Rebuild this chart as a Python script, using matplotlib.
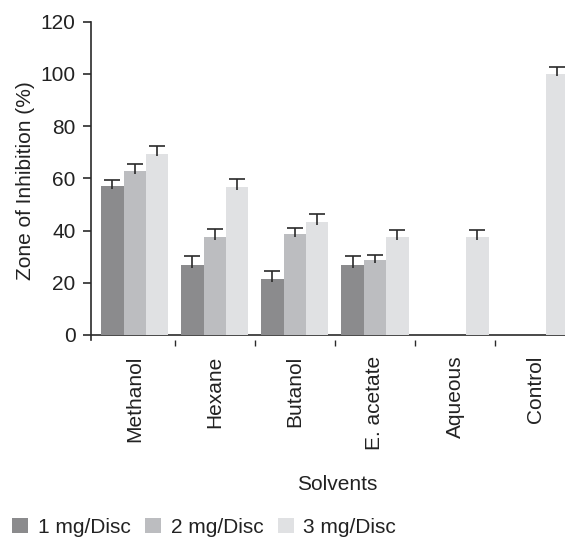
import numpy as np
import matplotlib.pyplot as plt

plt.rcParams['font.family'] = ['Liberation Sans', 'DejaVu Sans']

solvents = ['Methanol', 'Hexane', 'Butanol', 'E. acetate', 'Aqueous', 'Control']
doses = ['1 mg/Disc', '2 mg/Disc', '3 mg/Disc']

# mean zone of inhibition (%) per dose
vals_1 = [56.9, 26.7, 21.4, 26.7, 0, 0]
vals_2 = [62.7, 37.4, 38.6, 28.7, 0, 0]
vals_3 = [69.5, 56.6, 43.2, 37.4, 37.4, 100.1]
# upper error
err_1 = [2.4, 3.5, 3.1, 3.4, 0, 0]
err_2 = [2.9, 3.1, 2.3, 2.1, 0, 0]
err_3 = [2.7, 3.0, 3.3, 2.8, 2.8, 2.4]

colors = ['#8b8b8d', '#bcbdc0', '#e0e1e3']
ink = '#2a2a2a'
fs = 15

fig = plt.figure(figsize=(5.65, 5.38), dpi=100)
ax = fig.add_axes([0.161, 0.3677, 0.871, 0.592])

x = np.arange(len(solvents))
w = 0.28
for k, (v, e) in enumerate(zip([vals_1, vals_2, vals_3], [err_1, err_2, err_3])):
    xs = x + (k - 1) * w
    ax.bar(xs, v, width=w, color=colors[k], label=doses[k], zorder=2)
    v = np.array(v)
    e = np.array(e)
    m = v > 0
    # one-sided error bars: stem dips slightly into the bar, cap on top only
    eb = ax.errorbar(xs[m], v[m], yerr=[np.full(m.sum(), 1.0), e[m]], fmt='none',
                     ecolor=ink, elinewidth=1.2, capsize=6, capthick=1.2, zorder=3)
    eb[1][0].set_visible(False)

ax.axhline(0, color=ink, lw=1.2, zorder=1)
ax.set_xlim(-0.547, 5.6)
ax.set_ylim(-2, 120)
ax.set_yticks(np.arange(0, 121, 20))
ax.spines['left'].set_bounds(-2, 120)
ax.spines['left'].set_linewidth(1.2)
ax.spines['left'].set_color(ink)
for s in ['top', 'right', 'bottom']:
    ax.spines[s].set_visible(False)

ax.set_xticks(x)
ax.set_xticklabels(solvents, rotation=90, fontsize=fs, color='#222222')
ax.set_xticks(x[:-1] + 0.5, minor=True)
ax.tick_params(axis='x', which='major', length=0, pad=11)
ax.tick_params(axis='x', which='minor', length=4, width=1, color=ink)
ax.tick_params(axis='y', length=6, width=1.2, color=ink, labelsize=fs,
               labelcolor='#222222', pad=5)

ax.set_ylabel('Zone of Inhibition (%)', fontsize=fs, color='#222222', labelpad=4)
ax.set_xlabel('Solvents', fontsize=fs, color='#222222', labelpad=18)

fig.legend(loc='lower left', bbox_to_anchor=(0.02, 0.0), ncol=3, frameon=False,
           fontsize=fs, handlelength=0.77, handleheight=0.7, handletextpad=0.45,
           columnspacing=0.7, borderaxespad=0.0, borderpad=0.05, labelcolor='#222222')

fig.savefig('out.png', dpi=100)
